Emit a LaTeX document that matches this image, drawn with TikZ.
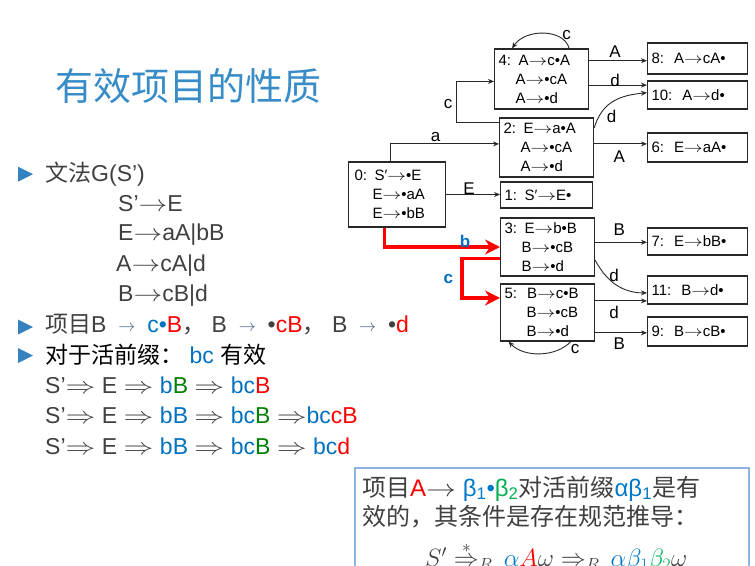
\documentclass[tikz,border=0pt]{standalone}
\usepackage{fix-cm}
\usepackage{amsmath}
\usepackage{fontspec}
\setmainfont{Liberation Sans}
\newfontfamily\cjk{Noto Sans CJK SC}
\usetikzlibrary{arrows.meta,calc}

\definecolor{titleblue}{RGB}{56,140,200}
\definecolor{txtgray}{RGB}{64,64,64}
\definecolor{boxline}{RGB}{40,40,40}
\definecolor{keyblue}{RGB}{0,112,192}
\definecolor{keygreen}{RGB}{0,128,0}
\definecolor{keyred}{RGB}{255,0,0}
\definecolor{bulletblue}{RGB}{52,130,192}
\definecolor{arrowgray}{RGB}{70,95,130}
\definecolor{noteblue}{RGB}{0,120,200}
\definecolor{notegreen}{RGB}{0,176,80}
\definecolor{noteframe}{RGB}{141,180,226}

% long thin production arrow
\newcommand\ra{\scalebox{1.25}[1]{$\rightarrow$}}
% long thin derivation arrow
\newcommand\derives{\scalebox{1.3}[1]{$\Rightarrow$}}
% short arrow with wide side bearings used in the item line
\newcommand\itemarrow{\makebox[28pt][c]{\fontsize{17}{17}\selectfont\color{arrowgray}\raisebox{1.5pt}{$\rightarrow$}}}

\begin{document}
\begin{tikzpicture}[x=1pt,y=-1pt,
  state/.style={draw=boxline, line width=1.1pt, anchor=west, align=left,
    inner xsep=4pt, inner ysep=0pt, font=\fontsize{15}{19}\selectfont},
  lbl/.style={inner sep=0pt, font=\fontsize{17}{17}\selectfont},
  hotlbl/.style={inner sep=0pt, text=keyblue, font=\bfseries\fontsize{17}{17}\selectfont},
  flow/.style={draw=boxline, line width=0.9pt, -{Stealth[length=6pt,width=5pt]}},
  hot/.style={draw=keyred, line width=3.5pt, -{Stealth[length=15pt,width=15pt,inset=5pt]}},
  body/.style={anchor=base west, inner sep=0pt, text=txtgray, font=\fontsize{23}{28}\selectfont},
  notetext/.style={anchor=base west, inner sep=0pt, text=txtgray, font=\fontsize{24}{28}\selectfont},
  bullet/.style={fill=bulletblue}
]
\useasboundingbox (0,0) rectangle (755,565);
\clip (0,0) rectangle (755,565);

% ---------- title ----------
\node[anchor=base west, inner sep=0pt, text=titleblue, font=\cjk\fontsize{38}{40}\selectfont]
  (title) at (55,100) {有效项目的性质};

% ---------- bullets ----------
\fill[bullet] (18,166.7) -- (33,174.2) -- (18,181.7) -- cycle;
\fill[bullet] (18,319.5) -- (33,327) -- (18,334.5) -- cycle;
\fill[bullet] (18,348) -- (33,355.5) -- (18,363) -- cycle;

% ---------- grammar and items ----------
\node[body] (gram) at (45,181.7) {{\cjk 文法}G(S’)};
\node[body] (r1) at (118,211) {S’\ra E};
\node[body] (r2) at (118,240.7) {E\ra aA|bB};
\node[body] (r3) at (116,271.7) {A\ra cA|d};
\node[body] (r4) at (118,301.7) {B\ra cB|d};
\node[body] (items) at (45,332.5) {{\cjk 项目}B \itemarrow{} \textcolor{keyblue}{c•}\textcolor{keyred}{B}{\cjk ，} B \itemarrow{} •\textcolor{keyred}{cB}{\cjk ，} B \itemarrow{} •\textcolor{keyred}{d}};
\node[body, text=black] (prefix) at (45,363) {{\cjk 对于活前缀：} \textcolor{keyblue}{bc} {\cjk 有效}};
\node[body] (der1) at (45,393.3) {S’\derives{} E \derives{} \textcolor{keyblue}{b}\textcolor{keygreen}{B} \derives{} \textcolor{keyblue}{bc}\textcolor{keyred}{B}};
\node[body] (der2) at (45,423.3) {S’\derives{} E \derives{} \textcolor{keyblue}{bB} \derives{} \textcolor{keyblue}{bc}\textcolor{keygreen}{B} \derives\textcolor{keyblue}{bc}\textcolor{keyred}{cB}};
\node[body] (der3) at (45,454) {S’\derives{} E \derives{} \textcolor{keyblue}{bB} \derives{} \textcolor{keyblue}{bc}\textcolor{keygreen}{B} \derives{} \textcolor{keyblue}{bc}\textcolor{keyred}{d}};

% ---------- automaton states ----------
\node[state, text width=89pt, minimum height=65pt] (b0) at (348,194.5)
  {\hspace*{2pt}0: S′\ra•E\\\hspace*{20pt}E\ra•aA\\\hspace*{20pt}E\ra•bB};
\node[state, text width=84pt, minimum height=26pt] (b1) at (500,195) {1: S′\ra E•};
\node[state, text width=86pt, minimum height=59pt] (b2) at (499,147.5)
  {2: E\ra a•A\\\hspace*{17pt}A\ra•cA\\\hspace*{17pt}A\ra•d};
\node[state, text width=86pt, minimum height=58pt] (b3) at (500,247)
  {3: E\ra b•B\\\hspace*{17pt}B\ra•cB\\\hspace*{17pt}B\ra•d};
\node[state, text width=86pt, minimum height=60pt] (b4) at (494,79)
  {4: A\ra c•A\\\hspace*{17pt}A\ra•cA\\\hspace*{17pt}A\ra•d};
\node[state, text width=86pt, minimum height=57pt] (b5) at (500,312.5)
  {5:\ \ B\ra c•B\\\hspace*{22pt}B\ra•cB\\\hspace*{22pt}B\ra•d};
\node[state, text width=92pt, minimum height=29pt] (b6) at (647,147.5) {6:\ \ E\ra aA•};
\node[state, text width=92pt, minimum height=27pt] (b7) at (647,241.5) {7:\ \ E\ra bB•};
\node[state, text width=92pt, minimum height=31pt] (b8) at (647,58.5) {8:\ \ A\ra cA•};
\node[state, text width=92pt, minimum height=29pt] (b9) at (647,331.5) {9:\ \ B\ra cB•};
\node[state, text width=92pt, minimum height=28pt] (b10) at (647,95) {10:\ \ A\ra d•};
\node[state, text width=92pt, minimum height=28pt] (b11) at (647,290) {11:\ \ B\ra d•};

% ---------- connector end points on the box borders ----------
\coordinate (o02) at ($(b0.north west)!.43!(b0.north east)$);
\coordinate (i02) at ($(b2.north west)!.44!(b2.south west)$);
\coordinate (o24) at ($(b2.north west)!.08!(b2.south west)$);
\coordinate (i24) at ($(b4.north west)!.54!(b4.south west)$);
\coordinate (o44) at ($(b4.north west)!.79!(b4.north east)$);
\coordinate (i44) at ($(b4.north west)!.19!(b4.north east)$);
\coordinate (o48) at ($(b4.north east)!.2!(b4.south east)$);
\coordinate (o410) at ($(b4.north east)!.6!(b4.south east)$);
\coordinate (o210) at ($(b2.north east)!.175!(b2.south east)$);
\coordinate (i210) at ($(b10.north west)!.42!(b10.south west)$);
\coordinate (o26) at ($(b2.north east)!.44!(b2.south east)$);
\coordinate (o37) at ($(b3.north east)!.42!(b3.south east)$);
\coordinate (o311) at ($(b3.north east)!.72!(b3.south east)$);
\coordinate (i311) at ($(b11.north west)!.6!(b11.south west)$);
\coordinate (o511) at ($(b5.north east)!.3!(b5.south east)$);
\coordinate (o59) at ($(b5.north east)!.85!(b5.south east)$);
\coordinate (o55) at ($(b5.south west)!.745!(b5.south east)$);
\coordinate (i55) at ($(b5.south west)!.09!(b5.south east)$);
\coordinate (o03) at ($(b0.south west)!.374!(b0.south east)$);
\coordinate (o35) at ($(b3.north west)!.695!(b3.south west)$);
\coordinate (i35) at ($(b5.north west)!.25!(b5.south west)$);

% ---------- transitions ----------
\draw[flow] (o02) |- (i02);
\draw[flow] (o24) -- ++(-43,0) |- (i24);
\draw[flow] (o44) .. controls +(-5,-20) and +(13,-20) .. (i44);
\draw[flow] (o48) -- (o48 -| b8.west);
\draw[flow] (o410) -- (o410 -| b10.west);
\draw[flow] (o210) .. controls +(8,-25) and +(-30,3) .. (i210);
\draw[flow] (o26) -- (o26 -| b6.west);
\draw[flow] (b0.east) -- (b0.east -| b1.west);
\draw[flow] (o37) -- (o37 -| b7.west);
\draw[flow] (o311) .. controls +(8,15) and +(-30,0) .. (i311);
\draw[flow] (o511) -- (o511 -| b11.west);
\draw[flow] (o59) -- (o59 -| b9.west);
\draw[flow] (o55) .. controls +(-15,16) and +(15,16) .. (i55);
\draw[hot] (o03) |- (b3.west);
\draw[hot] (o35) -- ++(-38,0) |- (i35);

% ---------- transition labels ----------
\node[lbl] (la)   at (435.7,136.7) {a};
\node[lbl] (lc24) at (448,104) {c};
\node[lbl] (lc44) at (566.7,35) {c};
\node[lbl] (lA48) at (615,51.7) {A};
\node[lbl] (ld410) at (615,80) {d};
\node[lbl] (ld210) at (611.7,116.7) {d};
\node[lbl] (lA26) at (619.3,156.7) {A};
\node[lbl] (lE)   at (469,189) {E};
\node[hotlbl] (lb) at (465,241.7) {b};
\node[hotlbl] (lc35) at (448.3,279.3) {c};
\node[lbl] (lB37) at (619.3,230) {B};
\node[lbl] (ld311) at (614,275) {d};
\node[lbl] (ld511) at (614,312.3) {d};
\node[lbl] (lB59) at (619.3,344) {B};
\node[lbl] (lc55) at (575,349.3) {c};

% ---------- note box ----------
\node[draw=noteframe, line width=1.5pt, anchor=north west, minimum width=394pt,
  minimum height=140pt, inner sep=0pt] (note) at (354,467) {};
\node[notetext] (n1) at (362,496) {{\cjk 项目}\textcolor{keyred}{A}\ra\ \textcolor{noteblue}{β\textsubscript{1}•}\textcolor{notegreen}{β\textsubscript{2}}{\cjk 对活前缀}\textcolor{noteblue}{αβ\textsubscript{1}}{\cjk 是有}};
\node[notetext] (n2) at (362,525) {{\cjk 效的，其条件是存在规范推导：}};
\node[notetext, font=\fontsize{25}{28}\selectfont] (n3) at (425,566.5)
  {$S'\overset{*}{\Rightarrow}_{R}\,\textcolor{noteblue}{\alpha}\textcolor{keyred}{A}\omega\Rightarrow_{R}\,\textcolor{noteblue}{\alpha\beta_1}\textcolor{notegreen}{\beta_2}\omega$};
\end{tikzpicture}
\end{document}
